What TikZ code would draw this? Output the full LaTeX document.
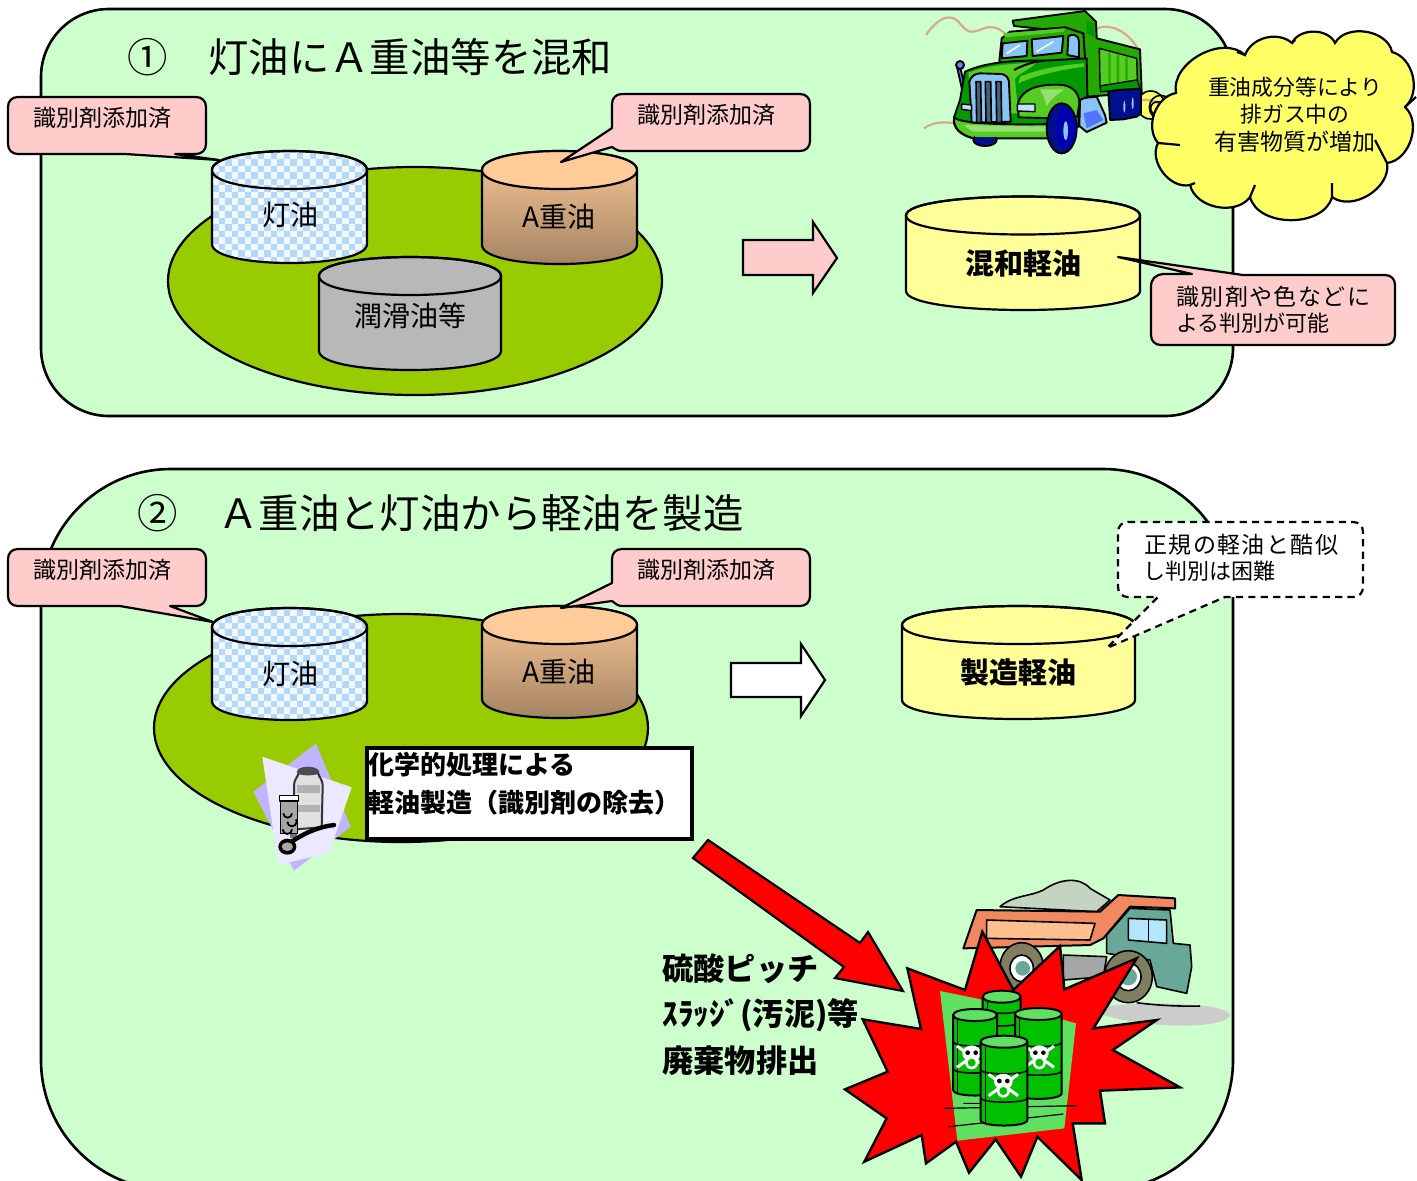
\documentclass[tikz,border=0pt]{standalone}
\usepackage{fontspec}
\setmainfont{Noto Sans CJK JP}
\newfontfamily\jpwide[LetterSpace=6]{Noto Sans CJK JP}
\definecolor{panelg}{HTML}{CCFFCC}
\definecolor{oilg}{HTML}{99CC00}
\definecolor{pinkc}{HTML}{FFCCCC}
\definecolor{tanky}{HTML}{FFFF99}
\definecolor{greyt}{HTML}{B8B8B8}
\definecolor{orT}{HTML}{FFCC99}
\definecolor{orB}{HTML}{A08060}
\definecolor{chk}{HTML}{B4D8FA}
\definecolor{chkbase}{HTML}{F2F8FF}
\definecolor{cloudy}{HTML}{FFFF66}
\definecolor{exh}{HTML}{D8A890}
\definecolor{dgreen}{HTML}{009900}
\definecolor{mgreen}{HTML}{22AA00}
\definecolor{lgreen}{HTML}{55CC22}
\definecolor{hgreen}{HTML}{99DD77}
\definecolor{winb}{HTML}{88C4F4}
\definecolor{navy2}{HTML}{000F8C}
\definecolor{bgreen}{HTML}{00C000}
\definecolor{lbgreen}{HTML}{60E060}
\definecolor{violetp}{HTML}{C0B4FF}
\definecolor{paperp}{HTML}{ECE8FF}
\definecolor{orange1}{HTML}{F08860}
\definecolor{orange2}{HTML}{FFC090}
\definecolor{teal1}{HTML}{68A898}
\definecolor{olive1}{HTML}{807E60}
\definecolor{pile}{HTML}{C4D4C0}
\tikzset{
 outl/.style={draw=black,line width=1.1pt},
 panelbox/.style={draw=black,line width=1.3pt,fill=panelg},
 callout/.style={draw=black,line width=1.1pt,fill=pinkc,line join=round},
 lab/.style={inner sep=0pt,font=\fontsize{11.5}{13}\selectfont,anchor=west},
 tanklab/.style={inner sep=0pt,font=\fontsize{14}{16}\selectfont},
 boldtank/.style={inner sep=0pt,font=\fontsize{14.5}{16}\selectfont\bfseries},
 titlet/.style={inner sep=0pt,font=\fontsize{20.2}{22}\selectfont,anchor=west},
 sidelab/.style={inner sep=0pt,font=\fontsize{15.6}{17}\selectfont\bfseries,anchor=west},
 boxlab/.style={inner sep=0pt,font=\fontsize{13}{15}\selectfont\bfseries,anchor=west},
 cloudlab/.style={inner sep=0pt,font=\fontsize{10.9}{12}\selectfont},
 blk/.style={draw=black,line width=0.8pt,line join=round},
 trk/.style={draw=black,line width=0.95pt,line join=round},
}
\newcommand\tankbody[5]{(#1,#3) -- (#1,#4) .. controls (#1,{#4+1.333*#5}) and (#2,{#4+1.333*#5}) .. (#2,#4) -- (#2,#3) .. controls (#2,{#3-1.333*#5}) and (#1,{#3-1.333*#5}) .. (#1,#3) -- cycle}
\newcommand\tanktop[5]{(#1,#3) .. controls (#1,{#3+1.333*#5}) and (#2,{#3+1.333*#5}) .. (#2,#3) .. controls (#2,{#3-1.333*#5}) and (#1,{#3-1.333*#5}) .. (#1,#3) -- cycle}
\newcommand\plaintank[6]{\path[fill=#6,outl] \tankbody{#1}{#2}{#3}{#4}{#5};}
\newcommand\checktank[5]{%
 \path[fill=chkbase] \tankbody{#1}{#2}{#3}{#4}{#5};
 \begin{scope}
 \clip \tankbody{#1}{#2}{#3}{#4}{#5};
 \foreach \i in {0,...,12}{\foreach \j in {0,...,10}{
  \fill[chk] ({#1+\i*13},{#3-24+\j*13}) rectangle +(6.5,6.5);
  \fill[chk] ({#1+6.5+\i*13},{#3-24+6.5+\j*13}) rectangle +(6.5,6.5);
 }}
 \end{scope}
 \path[outl] \tankbody{#1}{#2}{#3}{#4}{#5};
 \path[outl] \tanktop{#1}{#2}{#3}{#4}{#5};
}
\newcommand\barrel[4]{%
 \path[fill=bgreen,blk,line width=1pt] ({#1-#3},#2) -- ({#1-#3},#4) .. controls ({#1-#3},{#4+22}) and ({#1+#3},{#4+22}) .. ({#1+#3},#4) -- ({#1+#3},#2) -- cycle;
 \path[fill=lbgreen,blk,line width=1pt] ({#1-#3},#2) .. controls ({#1-#3},{#2+24}) and ({#1+#3},{#2+24}) .. ({#1+#3},#2) .. controls ({#1+#3},{#2-24}) and ({#1-#3},{#2-24}) .. ({#1-#3},#2) -- cycle;
 \draw[blk] ({#1-#3+1},{#2+0.36*(#4-#2)}) .. controls +(0,16) and ({#1+#3-1},{#2+0.36*(#4-#2)+16}) .. ({#1+#3-1},{#2+0.36*(#4-#2)});
 \draw[blk] ({#1-#3+1},{#2+0.72*(#4-#2)}) .. controls +(0,16) and ({#1+#3-1},{#2+0.72*(#4-#2)+16}) .. ({#1+#3-1},{#2+0.72*(#4-#2)});
 \draw[blk,line width=0.5pt] ({#1-#3+14},{#2+16}) -- ({#1-#3+14},{#4+10});
}
\newcommand\skull[2]{%
 \begin{scope}[shift={(#1,#2)}]
 \draw[white,line width=1.5pt] (-44,-32) -- (44,32) (44,-32) -- (-44,32);
 \fill[white] (0,-10) ellipse (28 and 24);
 \fill[white] (0,16) ellipse (20 and 22);
 \fill[black] (-12,-12) circle (7) (12,-12) circle (7);
 \fill[bgreen] (0,18) ellipse (12 and 12);
 \end{scope}
}
\begin{document}
\begin{tikzpicture}[x=0.5pt,y=-0.5pt]
\clip (0,0) rectangle (1417,1180);
\fill[white] (0,0) rectangle (1417,1180);
\path[panelbox,rounded corners=34pt] (41,9) rectangle (1233,416);
\path[panelbox,rounded corners=65pt] (41,469) rectangle (1233,1190);
% ---- panel 1
\node[titlet] (title1) at (127,57) {①　灯油にＡ重油等を混和};
\path[fill=oilg,outl] (415,281) ellipse [x radius=247,y radius=114];
\checktank{212}{367}{170}{244}{19}
\path[outl,top color=orT,bottom color=orB] \tankbody{482}{637}{170}{245}{19};
\path[outl,fill=orT] \tanktop{482}{637}{170}{245}{19};
\plaintank{319}{501}{276}{351}{19}{greyt}
\path[outl] \tanktop{319}{501}{276}{351}{19};
\path[callout,fill=tanky] \tankbody{906}{1140}{215.5}{291}{19};
\path[outl] \tanktop{906}{1140}{215.5}{291}{19};
\node[tanklab] (kero1) at (290,215) {灯油};
\node[tanklab] (aoil1) at (559,217) {A重油};
\node[tanklab] (lube1) at (410,316) {潤滑油等};
\node[boldtank] (mix1) at (1023,263) {混和軽油};
\path[callout] (18,97) -- (196,97) .. controls (202,97) and (206,101) .. (206,107) -- (206,144) .. controls (206,150) and (202,154) .. (196,154) -- (175,154) -- (219,160) -- (125,154) -- (18,154) .. controls (12,154) and (8,150) .. (8,144) -- (8,107) .. controls (8,101) and (12,97) .. (18,97) -- cycle;
\node[lab] (c1) at (33,118) {識別剤添加済};
\path[callout] (622,94) -- (800,94) .. controls (806,94) and (810,98) .. (810,104) -- (810,141) .. controls (810,147) and (806,151) .. (800,151) -- (622,151) .. controls (618,151) and (616,149.5) .. (612,147) -- (561,162) -- (612,128) -- (612,104) .. controls (612,98) and (616,94) .. (622,94) -- cycle;
\node[lab] (c2) at (637,115) {識別剤添加済};
\path[callout] (1243,275) -- (1385,275) .. controls (1391,275) and (1395,279) .. (1395,285) -- (1395,335) .. controls (1395,341) and (1391,345) .. (1385,345) -- (1161,345) .. controls (1155,345) and (1151,341) .. (1151,335) -- (1151,287) .. controls (1151,279) and (1155,275) .. (1163,274) -- (1192,274) -- (1118,257) -- cycle;
\node[lab,font=\fontsize{11.5}{13}\jpwide] (c3a) at (1176,297) {識別剤や色などに};
\node[lab,font=\fontsize{11}{13}\selectfont] (c3b) at (1176,323) {よる判別が可能};
\path[outl,fill=pinkc,line join=miter] (743,240) -- (813,240) -- (813,222) -- (837,258) -- (813,293) -- (813,275) -- (743,275) -- cycle;
% truck (zoom coordinates)
\begin{scope}[shift={(940,0)},x=0.16667pt,y=-0.16667pt,line join=round]
 \draw[exh,line width=1.1pt] (-42,105) .. controls (-10,60) and (20,40) .. (50,60) .. controls (75,85) and (80,105) .. (120,90) .. controls (150,75) and (170,80) .. (195,100);
 \draw[exh,line width=1.1pt] (470,85) .. controls (510,70) and (560,90) .. (595,148);
 \draw[exh,line width=1.1pt] (-48,385) .. controls (-20,365) and (10,365) .. (45,370);
 \path[fill=cloudy,trk,line width=0.8pt] (632,315) circle (42);
 \draw[exh,line width=1.1pt] (600,300) .. controls (630,295) and (670,310) .. (682,340);
 \draw[blk] (662,322) ellipse (34 and 36);
 \draw[blk] (652,325) ellipse (20 and 20);
 % bed
 \path[fill=mgreen,trk] (218,62) -- (435,33) -- (468,65) -- (470,115) -- (600,148) -- (605,278) -- (440,290) -- (430,100) -- (222,78) -- cycle;
 \path[fill=dgreen] (440,62) -- (462,70) -- (464,112) -- (440,100) -- cycle;
 \path[fill=lgreen,trk,line width=0.7pt] (478,145) -- (590,175) -- (592,240) -- (480,258) -- cycle;
 \fill[mgreen] (505,158) rectangle (512,250) (530,165) rectangle (537,248) (556,172) rectangle (563,244);
 \path[fill=dgreen,trk,line width=0.6pt] (480,258) -- (592,240) -- (600,265) -- (482,275) -- cycle;
 % rear wheels
 \path[fill=navy2,trk] (505,275) -- (530,270) -- (603,266) -- (603,340) -- (590,350) -- (550,358) -- (510,360) -- cycle;
 \path[fill=winb] (553,320) ellipse (3 and 18) (578,310) ellipse (3 and 18);
 % step
 \path[fill=winb,trk] (420,295) -- (470,290) -- (495,345) -- (500,368) -- (440,396) -- (418,378) -- cycle;
 \path[fill=winb!60!blue] (430,340) -- (470,330) -- (490,360) -- (440,385) -- cycle;
 % cab
 \path[fill=mgreen,trk] (178,182) -- (185,115) -- (210,95) -- (375,82) -- (430,100) -- (442,290) -- (300,280) -- cycle;
 \path[fill=lgreen] (190,100) -- (375,85) -- (372,95) -- (195,112) -- cycle;
 \path[fill=winb,trk] (188,130) -- (262,122) -- (260,168) -- (185,175) -- cycle;
 \path[fill=winb,trk] (275,118) -- (370,108) -- (365,158) -- (278,168) -- cycle;
 \draw[white,line width=0.8pt] (200,160) -- (240,135) (290,155) -- (340,125);
 \path[fill=winb,trk] (385,108) .. controls (400,100) and (417,105) .. (417,125) -- (417,172) -- (382,165) -- cycle;
 % mirror
 \path[fill=winb!70!blue,trk] (60,195) circle (12);
 \path[fill=winb!70!blue,trk] (52,205) -- (62,208) -- (80,285) -- (70,285) -- cycle;
 % hood
 \path[fill=dgreen,trk] (75,215) .. controls (120,195) and (180,180) .. (310,182) -- (440,175) -- (442,290) -- (420,300) -- (415,380) -- (360,395) -- (345,410) -- (100,415) .. controls (60,405) and (38,385) .. (42,352) -- (60,300) -- cycle;
 \path[fill=lgreen] (85,218) .. controls (130,200) and (200,190) .. (290,188) .. controls (260,215) and (225,225) .. (225,240) -- (235,340) -- (95,345) -- cycle;
 \path[fill=lgreen] (240,230) .. controls (300,205) and (370,195) .. (432,190) -- (432,200) .. controls (360,210) and (290,225) .. (235,250) -- cycle;
 \draw[black,line width=1pt] (222,210) .. controls (250,195) and (280,185) .. (308,183);
 \path[fill=lgreen,trk] (235,305) .. controls (250,265) and (300,250) .. (370,255) .. controls (405,262) and (418,285) .. (418,310) -- (412,350) -- (355,345) -- (345,355) -- (235,352) -- cycle;
 \path[fill=hgreen] (300,268) -- (372,268) .. controls (350,285) and (330,300) .. (320,318) .. controls (315,300) and (310,285) .. (300,268) -- cycle;
 \path[fill=lgreen,trk] (42,352) .. controls (60,372) and (200,375) .. (340,372) -- (358,360) -- (355,395) -- (335,415) -- (100,415) .. controls (65,405) and (38,385) .. (42,352) -- cycle;
 \path[fill=hgreen] (70,375) -- (335,380) -- (335,395) -- (100,395) -- cycle;
 % grille
 \path[fill=winb,trk] (88,245) .. controls (95,225) and (105,222) .. (120,220) -- (185,222) .. controls (200,225) and (207,235) .. (207,250) -- (212,365) -- (95,368) -- cycle;
 \foreach \ga/\gb in {108/122,136/152,168/183}{\path[fill=winb!50!black,trk,line width=0.8pt] (\ga,245) -- (\gb,245) -- (\gb+2,368) -- (\ga+2,368) -- cycle;}
 \path[fill=winb!50!white,trk,line width=0.7pt] (65,312) -- (95,315) -- (95,332) -- (65,328) -- cycle;
 \path[fill=winb!50!white,trk,line width=0.7pt] (232,312) -- (285,312) -- (285,335) -- (232,333) -- cycle;
 % wheels
 \path[fill=navy2,trk] (135,420) ellipse (35 and 18);
 \path[fill=lgreen,draw=none] (105,400) rectangle (170,412);
 \path[fill=navy2,trk] (365,385) ellipse (45 and 75);
 \path[fill=blue!70!black] (378,385) ellipse (30 and 60);
 \fill[winb] (377,392) ellipse (7 and 28);
\end{scope}
% cloud
\path[fill=cloudy,outl] (1176,93) to[bend left=72] (1245,55) to[bend left=55] (1292,43) to[bend left=65] (1335,43) to[bend left=70] (1392,52) to[bend left=62] (1405,107) to[bend left=65] (1387,163) to[bend left=68] (1332,197) to[bend left=75] (1250,197) to[bend left=65] (1190,185) to[bend left=65] (1158,143) to[bend left=60] cycle;
\draw[outl] (1245,55) -- +(-8,-3) (1292,43) -- +(3,-3) (1158,143) -- (1180,145) (1190,185) -- (1195,183) (1250,197) -- (1255,185) (1332,197) -- (1332,183) (1387,163) -- (1375,140) (1405,107) -- (1416,97);
\node[cloudlab] (w1) at (1295,87) {重油成分等により};
\node[cloudlab] (w2) at (1295,114) {排ガス中の};
\node[cloudlab,font=\fontsize{11.5}{13}\selectfont] (w3) at (1295,142) {有害物質が増加};
% ---- panel 2
\node[titlet] (title2) at (137,513) {②　Ａ重油と灯油から軽油を製造};
\path[fill=oilg,outl] (401,728) ellipse [x radius=247,y radius=114];
\checktank{212}{367}{627}{701}{19}
\path[outl,top color=orT,bottom color=orB] \tankbody{482}{637}{625}{699}{19};
\path[outl,fill=orT] \tanktop{482}{637}{625}{699}{19};
\path[callout,fill=tanky] \tankbody{902}{1135}{625}{700}{19};
\path[outl] \tanktop{902}{1135}{625}{700}{19};
\node[tanklab] (kero2) at (290,674) {灯油};
\node[tanklab] (aoil2) at (559,672) {A重油};
\node[boldtank] (mix2) at (1018,672) {製造軽油};
\path[callout] (18,549) -- (196,549) .. controls (202,549) and (206,553) .. (206,559) -- (206,596) .. controls (206,602) and (202,606) .. (196,606) -- (170,606) -- (213,622) -- (120,606) -- (18,606) .. controls (12,606) and (8,602) .. (8,596) -- (8,559) .. controls (8,553) and (12,549) .. (18,549) -- cycle;
\node[lab] (c4) at (33,570) {識別剤添加済};
\path[callout] (622,549) -- (800,549) .. controls (806,549) and (810,553) .. (810,559) -- (810,596) .. controls (810,602) and (806,606) .. (800,606) -- (622,606) .. controls (618,606) and (616,604) .. (612,601) -- (561,608) -- (612,583) -- (612,559) .. controls (612,553) and (616,549) .. (622,549) -- cycle;
\node[lab] (c5) at (637,570) {識別剤添加済};
\path[draw=black,line width=1.1pt,dash pattern=on 3.6pt off 2.6pt,fill=white,line join=round] (1128,522) -- (1353,522) .. controls (1359,522) and (1363,526) .. (1363,532) -- (1363,587) .. controls (1363,593) and (1359,597) .. (1353,597) -- (1225,597) -- (1107,648) -- (1158,597) -- (1128,597) .. controls (1122,597) and (1118,593) .. (1118,587) -- (1118,532) .. controls (1118,526) and (1122,522) .. (1128,522) -- cycle;
\node[lab,font=\fontsize{11.5}{13}\jpwide] (c6a) at (1144,545) {正規の軽油と酷似};
\node[lab,font=\fontsize{11}{13}\selectfont] (c6b) at (1143,571) {し判別は困難};
\path[outl,fill=white,line join=miter] (731,663) -- (801,663) -- (801,644) -- (825,680) -- (801,716) -- (801,697) -- (731,697) -- cycle;
% chemical box
\node[draw=black,line width=2pt,fill=white,minimum width=162.5pt,minimum height=45.5pt,inner sep=0pt,outer sep=0pt,anchor=north west] (chem) at (367,748) {};
\node[boxlab] (chem1) at (368,765) {化学的処理による};
\node[boxlab] (chem2) at (368,803) {軽油製造（識別剤の除去）};
% medicine clip art
\begin{scope}[shift={(230,730)},x=0.16667pt,y=-0.16667pt,line join=round]
 \fill[violetp] (258,40) -- (362,290) -- (192,422) -- (70,185) -- cycle;
 \fill[paperp] (97,80) -- (365,172) -- (298,368) -- (145,405) -- cycle;
 \fill[black!55] (180,300) rectangle (200,325);
 \path[fill=black!12,draw=black!80,line width=1pt] (192,170) .. controls (192,145) and (205,140) .. (205,130) -- (265,130) .. controls (265,140) and (278,145) .. (278,170) -- (275,292) -- (195,298) -- cycle;
 \path[fill=black!70] (200,125) .. controls (205,105) and (262,105) .. (268,125) .. controls (262,140) and (205,140) .. (200,125) -- cycle;
 \fill[black!30] (200,165) -- (270,165) -- (270,188) -- (200,188) -- cycle;
 \fill[black!30] (200,225) -- (270,225) -- (270,245) -- (200,245) -- cycle;
 \path[fill=black!35,draw=black,line width=0.7pt] (152,212) rectangle (202,310);
 \path[fill=white,draw=black,line width=0.7pt] (148,196) rectangle (205,213);
 \draw[black,line width=0.9pt] (160,250) arc (180:0:13) (172,275) arc (180:-30:14) (158,298) arc (180:0:14);
 \draw[black,line width=2.2pt,line cap=round] (185,335) .. controls (230,305) and (270,290) .. (312,285);
 \path[fill=black] (172,350) ellipse (27 and 24);
 \path[fill=black!35] (172,350) ellipse (17 and 13);
\end{scope}
% red arrow
\path[outl,fill=red,line join=miter] (708,840) -- (860,943) -- (868,932) -- (903,991) -- (835,978) -- (844,967) -- (693,858) -- cycle;
% dump truck and burst
\begin{scope}[shift={(820,860)},x=0.16667pt,y=-0.16667pt,line join=round]
 \fill[black!20] (850,440) .. controls (950,425) and (1220,425) .. (1230,465) .. controls (1220,505) and (1000,510) .. (850,465) -- cycle;
 \draw[black,line width=0.8pt] (950,428) .. controls (1000,435) and (1080,440) .. (1140,438);
 \path[fill=pile,blk] (540,140) .. controls (580,105) and (630,110) .. (670,90) .. controls (720,55) and (780,50) .. (810,85) -- (870,120) -- (830,155) -- cycle;
 \path[fill=orange1,blk,line width=1pt] (470,150) -- (840,155) -- (895,105) -- (1065,115) -- (1065,145) -- (930,140) -- (850,235) -- (810,255) -- (430,265) -- cycle;
 \path[fill=orange2,blk] (500,180) -- (825,190) -- (810,240) -- (500,235) -- cycle;
 \path[fill=teal1,blk] (860,225) -- (930,145) -- (1050,150) -- (1060,250) -- (1110,255) -- (1115,320) -- (1100,400) -- (1010,380) -- (990,300) -- (860,280) -- cycle;
 \path[fill=white!70!cyan,blk] (925,175) -- (1040,180) -- (1040,250) -- (925,240) -- cycle;
 \draw[blk] (985,178) -- (985,246);
 \path[fill=black!35,blk] (730,285) -- (860,290) -- (850,350) -- (730,360) -- cycle;
 \path[fill=olive1,blk] (605,320) ellipse (65 and 72);
 \path[fill=white,blk] (605,325) ellipse (35 and 40);
 \path[fill=teal1] (608,325) circle (22);
 \path[fill=olive1,blk] (925,350) ellipse (72 and 78);
 \path[fill=white,blk] (925,350) ellipse (38 and 42);
 \path[fill=teal1] (925,350) circle (26);
 \path[fill=red,draw=black,line width=1.2pt,line join=miter] (262,325) -- (435,390) -- (487,215) -- (580,390) -- (720,258) -- (733,388) -- (950,295) -- (820,505) -- (1010,480) -- (878,570) -- (1080,682) -- (840,692) -- (855,790) -- (758,790) -- (785,960) -- (652,830) -- (603,950) -- (527,838) -- (447,938) -- (408,845) -- (318,910) -- (305,825) -- (133,905) -- (200,775) -- (75,688) -- (203,635) -- (128,478) -- (303,507) -- cycle;
 \fill[lbgreen] (360,393) -- (590,440) -- (768,490) -- (733,805) -- (412,842) -- cycle;
 \draw[black,line width=0.6pt] (370,745) -- (770,737) (430,730) -- (620,730) (385,800) -- (730,762);
 \barrel{545}{410}{57}{515}
 \barrel{465}{465}{66}{690}
 \barrel{655}{462}{70}{700}
 \skull{455}{590}
 \skull{658}{590}
 \barrel{552}{545}{70}{780}
 \skull{550}{675}
\end{scope}
\node[sidelab] (s1) at (662,969) {硫酸ピッチ};
\node[sidelab] (s2) at (662,1015) {ｽﾗｯｼﾞ(汚泥)等};
\node[sidelab] (s3) at (662,1061) {廃棄物排出};
\end{tikzpicture}
\end{document}
